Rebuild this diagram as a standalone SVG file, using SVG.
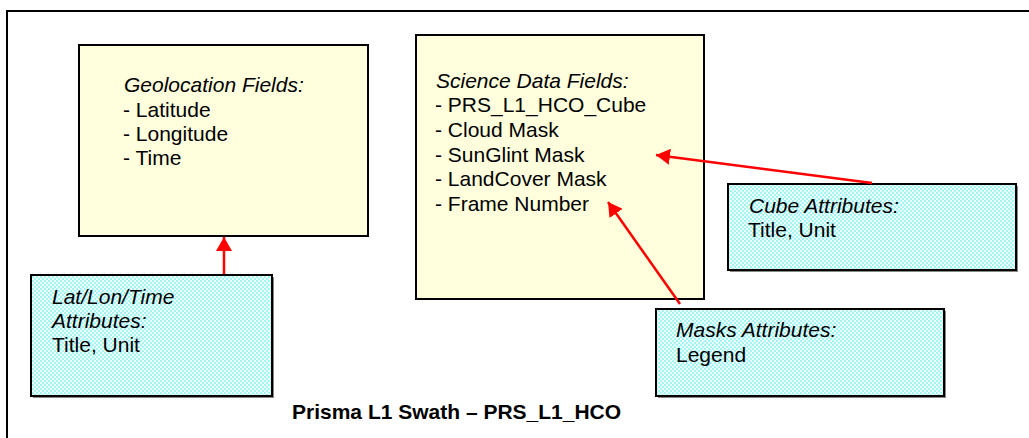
<svg xmlns="http://www.w3.org/2000/svg" width="1029" height="438" viewBox="0 0 1029 438">
<style>
.yel{fill:#ffffdd;stroke:#000;stroke-width:2}
.cy{fill:url(#dots);stroke:#000;stroke-width:2}
.sh{fill:#888}
.t{font-family:"Liberation Sans",Arial,sans-serif;font-size:21px;fill:#000}
.i{font-style:italic}
.b{font-weight:bold}
.c{stroke:#ff0000;stroke-width:2.5;fill:none;marker-end:url(#ah)}
</style>
<defs>
<pattern id="dots" width="4" height="4" patternUnits="userSpaceOnUse">
<rect width="4" height="4" fill="#ecffff"/>
<rect x="0" y="0" width="2" height="2" fill="#a6f5f5"/>
<rect x="2" y="2" width="2" height="2" fill="#a6f5f5"/>
</pattern>
<marker id="ah" markerWidth="14" markerHeight="16" refX="14" refY="8" orient="auto" markerUnits="userSpaceOnUse">
<path d="M0,0 L14,8 L0,16 Z" fill="#ff0000"/>
</marker>
</defs>
<rect width="1029" height="438" fill="#fff"/>
<rect id="frame" x="7" y="11" width="1040" height="450" fill="none" stroke="#000" stroke-width="2"/>
<g id="geolocation">
<rect class="yel" x="79" y="45" width="289" height="191"/>
<text class="t i" x="124" y="92">Geolocation Fields:</text>
<text class="t" x="123" y="117">- Latitude</text>
<text class="t" x="123" y="141">- Longitude</text>
<text class="t" x="123" y="165">- Time</text>
</g>
<g id="science">
<rect class="yel" x="416" y="35" width="288" height="264"/>
<text class="t i" x="436" y="88">Science Data Fields:</text>
<text class="t" x="435" y="112">- PRS_L1_HCO_Cube</text>
<text class="t" x="435" y="137">- Cloud Mask</text>
<text class="t" x="435" y="162">- SunGlint Mask</text>
<text class="t" x="435" y="186">- LandCover Mask</text>
<text class="t" x="435" y="211">- Frame Number</text>
</g>
<g id="cube-attributes">
<rect class="sh" x="730" y="186" width="288" height="86"/>
<rect class="cy" x="728" y="184" width="288" height="86"/>
<text class="t i" x="749" y="213">Cube Attributes:</text>
<text class="t" x="748" y="237">Title, Unit</text>
</g>
<g id="masks-attributes">
<rect class="sh" x="658" y="311" width="288" height="87"/>
<rect class="cy" x="656" y="309" width="288" height="87"/>
<text class="t i" x="676" y="337">Masks Attributes:</text>
<text class="t" x="676" y="362">Legend</text>
</g>
<g id="latlontime-attributes">
<rect class="sh" x="33" y="277" width="241" height="121"/>
<rect class="cy" x="31" y="275" width="241" height="121"/>
<text class="t i" x="52" y="304">Lat/Lon/Time</text>
<text class="t i" x="52" y="328">Attributes:</text>
<text class="t" x="52" y="352">Title, Unit</text>
</g>
<g id="connectors">
<line class="c" x1="224" y1="274" x2="224" y2="237"/>
<line class="c" x1="872" y1="183" x2="656" y2="155"/>
<line class="c" x1="680" y1="304" x2="608" y2="202"/>
</g>
<text class="t b" x="292" y="419">Prisma L1 Swath – PRS_L1_HCO</text>
</svg>
